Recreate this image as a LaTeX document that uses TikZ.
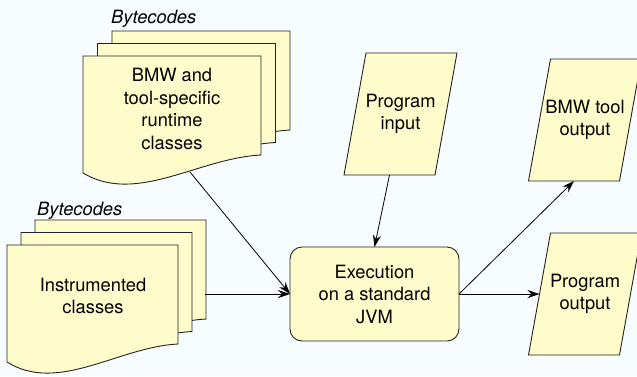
\documentclass[tikz,border=0pt]{standalone}
\usepackage{fontspec}
\setmainfont{TeX Gyre Heros}
\usepackage{tikz}
\usetikzlibrary{arrows.meta}
\usetikzlibrary{shapes}
\usetikzlibrary{calc}

\definecolor{paper}{RGB}{255,252,204}
\definecolor{bgblue}{RGB}{247,252,255}
\definecolor{rim}{RGB}{35,35,35}

\tikzset{outline/.style={fill=paper,draw=rim,line width=0.9pt}}

\newcommand{\docsheet}[3]{%
  \begin{scope}[shift={(#1,#2)}]
    \filldraw[outline]
      (0,0) -- (#3,0) -- (#3,99)
      .. controls ({0.65*#3},102) and ({0.3*#3},149) .. (0,117) -- cycle;
  \end{scope}}

\newcommand{\dataslant}[1]{%
  \filldraw[outline] (#1.south west) -- ($(#1.south east)+(-22,0)$)
    -- (#1.north east) -- ($(#1.north west)+(22,0)$) -- cycle;}

\begin{document}
\begin{tikzpicture}[x=1pt,y=-1pt,font=\fontsize{18.3}{22.5}\selectfont]
      \fill[bgblue] (0,0) rectangle (637,376);
      \useasboundingbox (0,0) rectangle (637,376);
      \docsheet{112}{31}{178}
      \docsheet{97.5}{43.5}{178}
      \docsheet{83}{56}{178}
      \docsheet{35}{220}{171}
      \docsheet{21}{232.5}{171}
      \docsheet{7}{245}{171}
      \begin{scope}[every node/.style={minimum width=113pt,minimum height=122pt,
          inner sep=0pt,outer sep=0pt}]
        \node (pin) at (400.5,114) {};
        \node (bto) at (585,120) {};
        \node (pout) at (585,294) {};
      \end{scope}
      \dataslant{pin}
      \dataslant{bto}
      \dataslant{pout}
      \begin{scope}[every node/.style={align=center,inner sep=0pt}]
        \node[anchor=base west] (bytetop) at (111,23) {\itshape Bytecodes};
        \node[anchor=base west] (bytelow) at (37,215) {\itshape Bytecodes};
        \node (runtime) at (172,109) {BMW and\\tool-specific\\runtime\\classes};
        \node (instr) at (93,296) {Instrumented\\classes};
        \node (pintext) at (pin) {Program\\input};
        \node (btotext) at (bto) {BMW tool\\output};
        \node (pouttext) at (pout) {Program\\output};
        \node[outline,rectangle,rounded corners=12pt,minimum width=169pt,
          minimum height=94pt,outer sep=0pt]
          (exec) at (374.5,294) {Execution\\on a standard\\JVM};
      \end{scope}
      \coordinate (runtimefoot) at (190,172);
      \coordinate (instredge) at (205,294);
      \coordinate (pinfoot) at ($(pin.south)+(-11,0)$);
      \coordinate (btofoot) at ($(bto.south)+(-11,0)$);
      \coordinate (poutside) at ($(pout.west)+(11,0)$);
      \begin{scope}[every edge/.style={draw=black,line width=0.8pt,
          -{Stealth[length=12pt,width=8pt,inset=4pt]}}]
        \path (runtimefoot) edge (exec.west);
        \path (instredge) edge (exec.west);
        \path (pinfoot) edge (exec.north);
        \path (exec.east) edge (btofoot);
        \path (exec.east) edge (poutside);
      \end{scope}
    \end{tikzpicture}
\end{document}
